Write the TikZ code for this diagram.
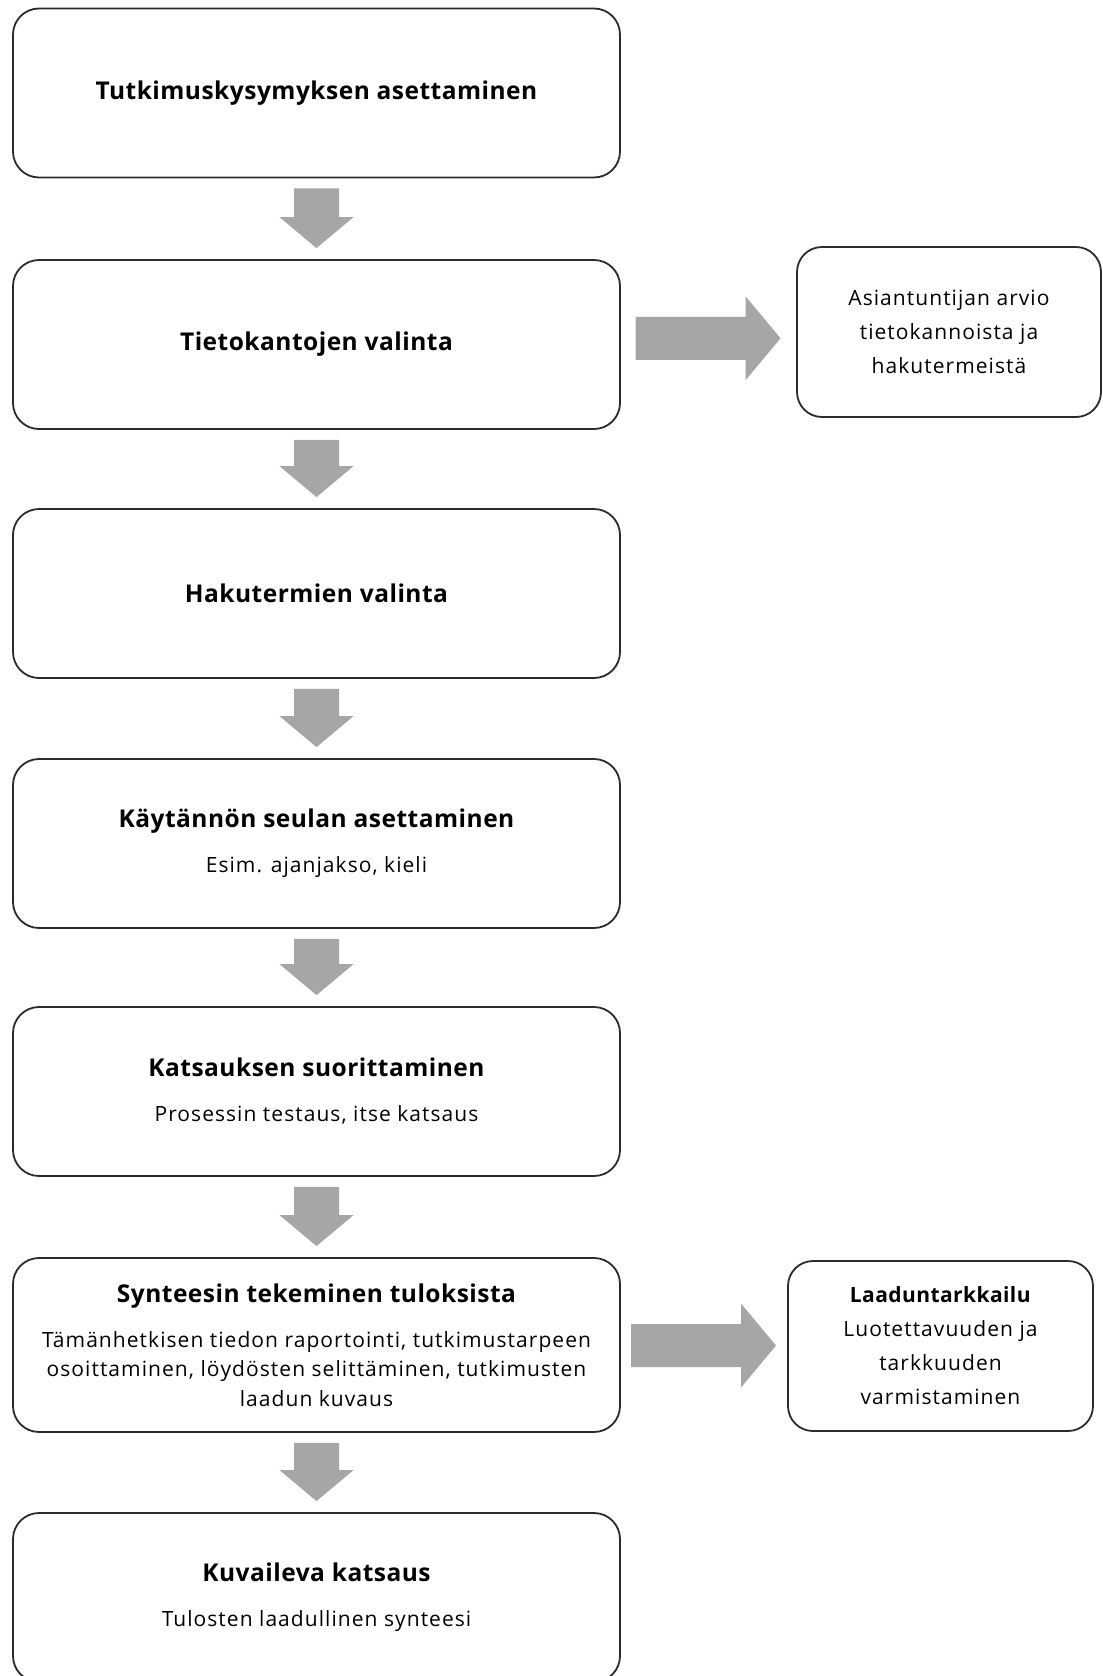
\documentclass[tikz,border=0pt]{standalone}
\usepackage{fontspec}
\setmainfont{Open Sans}[LetterSpace=5, BoldFeatures={LetterSpace=2}]
\usetikzlibrary{calc}
\definecolor{nuoli}{HTML}{A6A6A6}
\definecolor{reuna}{HTML}{2B2B2B}
\newcommand{\otsikko}[1]{{\fontsize{24.5}{28}\selectfont\bfseries #1}}
\tikzset{
  vaihe/.style={draw=reuna, line width=1.8pt, rounded corners=26pt, inner sep=0pt,
    minimum width=607pt, minimum height=169pt, align=center,
    font=\fontsize{21}{29.5}\selectfont},
  sivu/.style={draw=reuna, line width=1.8pt, rounded corners=25pt, inner sep=0pt,
    minimum width=304pt, minimum height=170pt, align=center,
    font=\fontsize{21}{34}\selectfont},
  harmaa/.style={fill=nuoli}
}

\begin{document}
\begin{tikzpicture}[x=1pt, y=-1pt]
  \useasboundingbox (0,0) rectangle (1103,1676);
  \clip (0,0) rectangle (1103,1676);
  \node[vaihe] (kysymys) at (316.5,93) {\otsikko{Tutkimuskysymyksen asettaminen}};
  \node[vaihe] (tietokannat) at (316.5,344.5) {\otsikko{Tietokantojen valinta}};
  \node[vaihe] (hakutermit) at (316.5,593.5) {\otsikko{Hakutermien valinta}};
  \node[vaihe] (seula) at (316.5,843.5) {\otsikko{Käytännön seulan asettaminen}\\[15.5pt]Esim. ajanjakso, kieli};
  \node[vaihe] (katsaus) at (316.5,1091.5) {\otsikko{Katsauksen suorittaminen}\\[15.5pt]Prosessin testaus, itse katsaus};
  \node[vaihe, minimum height=174pt] (synteesi) at (316.5,1345) {\otsikko{Synteesin tekeminen tuloksista}\\[15.5pt]Tämänhetkisen tiedon raportointi, tutkimustarpeen\\osoittaminen, löydösten selittäminen, tutkimusten\\laadun kuvaus};
  \node[vaihe] (kuvaileva) at (316.5,1597.5) {\otsikko{Kuvaileva katsaus}\\[15.5pt]Tulosten laadullinen synteesi};
  \node[sivu] (arvio) at (949,332) {Asiantuntijan arvio\\tietokannoista ja\\hakutermeistä};
  \node[sivu, minimum width=305pt] (laatu) at (940.5,1346) {\textbf{Laaduntarkkailu}\\Luotettavuuden ja\\tarkkuuden\\varmistaminen};
  % alaspain
  \foreach \a/\b in {kysymys/tietokannat, tietokannat/hakutermit, hakutermit/seula,
                     seula/katsaus, katsaus/synteesi, synteesi/kuvaileva}
   \fill[harmaa] ($(\a.south)+(-22.5,10)$) -- ($(\a.south)+(22.5,10)$) -- ($(\b.north)+(22.5,-42)$)
     -- ($(\b.north)+(37,-42)$) -- ($(\b.north)+(0,-11)$) -- ($(\b.north)+(-37,-42)$)
     -- ($(\b.north)+(-22.5,-42)$) -- cycle;
  % sivulle
  \foreach \a/\b in {tietokannat/arvio, synteesi/laatu} {
   \coordinate (m) at ($(\a.east)!.5!(\b.west)$);
   \fill[harmaa] ($(m)+(-73,-21.5)$) -- ($(m)+(37,-21.5)$) -- ($(m)+(37,-42)$) -- ($(m)+(72,0)$)
     -- ($(m)+(37,42)$) -- ($(m)+(37,21.5)$) -- ($(m)+(-73,21.5)$) -- cycle;
  }
\end{tikzpicture}
\end{document}
